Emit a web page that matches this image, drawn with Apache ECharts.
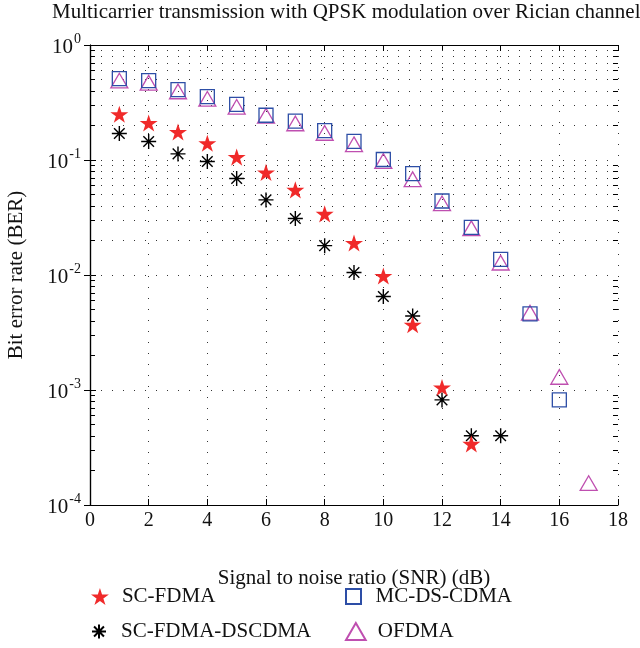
<!DOCTYPE html>
<html>
<head>
    <meta charset="utf-8">
    <title>BER vs SNR</title>
    <script src="https://cdn.jsdelivr.net/npm/echarts@6/dist/echarts.min.js"></script>
</head>
<body style="margin:0">
    <div id="main" style="width:640px;height:648px;"></div>
    <script>
        // data
        var scFdmaX = [1, 2, 3, 4, 5, 6, 7, 8, 9, 10, 11, 12, 13];
        var scFdma = [0.25, 0.21, 0.175, 0.14, 0.106, 0.078, 0.055, 0.034, 0.019, 0.0098, 0.0037, 0.00105, 0.00034];
        var dscdmaX = [1, 2, 3, 4, 5, 6, 7, 8, 9, 10, 11, 12, 13, 14];
        var dscdma = [0.17, 0.145, 0.113, 0.097, 0.069, 0.045, 0.031, 0.018, 0.0105, 0.0065, 0.0044, 0.00082, 0.0004, 0.0004];
        var mcX = [1, 2, 3, 4, 5, 6, 7, 8, 9, 10, 11, 12, 13, 14, 15, 16];
        var mcDsCdma = [0.51, 0.49, 0.41, 0.355, 0.305, 0.245, 0.218, 0.18, 0.145, 0.101, 0.076, 0.044, 0.026, 0.0137, 0.0046, 0.00082];
        var ofX = [1, 2, 3, 4, 5, 6, 7, 8, 9, 10, 11, 12, 13, 14, 15, 16, 17];
        var ofdma = [0.49, 0.47, 0.395, 0.34, 0.29, 0.243, 0.208, 0.172, 0.137, 0.098, 0.068, 0.042, 0.0255, 0.0128, 0.0047, 0.0013, 0.000155];

        var minorTicks = [];
        [1e-4, 1e-3, 1e-2, 1e-1].forEach(function (d) {
            for (var k = 2; k <= 9; k++) minorTicks.push(+(k * d).toPrecision(3));
        });

        function pairs(xs, ys) {
            return xs.map(function (x, i) { return [x, ys[i]]; });
        }

        var starPath = 'path://M0,-10L2.245,-3.09L9.511,-3.09L3.633,1.18L5.878,8.09L0,3.82L-5.878,8.09L-3.633,1.18L-9.511,-3.09L-2.245,-3.09Z';
        var asteriskPath = 'path://M0,-10L0,10M-10,0L10,0M-7.07,-7.07L7.07,7.07M-7.07,7.07L7.07,-7.07';
        var squarePath = 'path://M-10,-10L10,-10L10,10L-10,10Z';
        var trianglePath = 'path://M0,-10L11,9L-11,9Z';

        var serif = 'Liberation Serif';
        var dotted = { color: '#333', width: 1, type: [1, 10] };

        // minor grid + minor ticks on both sides
        var gridLines = [];
        minorTicks.forEach(function (v) {
            gridLines.push({ yAxis: v, lineStyle: dotted });
            gridLines.push([{ coord: [0, v], lineStyle: { color: '#000', width: 1, type: 'solid' } }, { coord: [0.17, v] }]);
            gridLines.push([{ coord: [18, v], lineStyle: { color: '#000', width: 1, type: 'solid' } }, { coord: [17.83, v] }]);
        });

        function legendItem(name, left, top, size) {
            return {
                data: [name],
                left: left,
                top: top,
                padding: 0,
                itemWidth: 34,
                itemHeight: size,
                selectedMode: false,
                textStyle: { fontFamily: serif, fontSize: 21, color: '#111' }
            };
        }

        var myChart = echarts.init(document.getElementById('main'));

        var option = {
            animation: false,
            title: {
                text: 'Multicarrier transmission with QPSK modulation over Rician channel',
                left: 52,
                top: 2,
                padding: 0,
                textStyle: { fontFamily: serif, fontSize: 21, fontWeight: 'normal', color: '#111' }
            },
            legend: [
                legendItem('SC-FDMA', 91, 586, 17),
                legendItem('SC-FDMA-DSCDMA', 91, 621, 14),
                legendItem('MC-DS-CDMA', 345, 586, 15),
                legendItem('OFDMA', 345, 621, 17)
            ],
            grid: { left: 90, right: 22, top: 45, bottom: 143, outerBoundsMode: 'none' },
            xAxis: [{
                type: 'value',
                min: 0,
                max: 18,
                interval: 2,
                name: 'Signal to noise ratio (SNR) (dB)',
                nameLocation: 'middle',
                nameGap: 63,
                nameTextStyle: { fontFamily: serif, fontSize: 21, color: '#111' },
                axisLine: { lineStyle: { color: '#000', width: 1.2 } },
                axisTick: { inside: true, length: 6, lineStyle: { color: '#000' } },
                axisLabel: { fontFamily: serif, fontSize: 20, color: '#111', margin: 6 },
                splitLine: { show: true, lineStyle: dotted }
            }, {
                type: 'value',
                position: 'top',
                min: 0,
                max: 18,
                interval: 2,
                axisLine: { lineStyle: { color: '#000', width: 1.2 } },
                axisTick: { inside: true, length: 6, lineStyle: { color: '#000' } },
                axisLabel: { show: false },
                splitLine: { show: false }
            }],
            yAxis: [{
                type: 'log',
                logBase: 10,
                min: 1e-4,
                max: 1,
                name: 'Bit error rate (BER)',
                nameLocation: 'middle',
                nameGap: 63,
                nameTextStyle: { fontFamily: serif, fontSize: 21, color: '#111' },
                axisLine: { show: true, lineStyle: { color: '#000', width: 1.2 } },
                axisTick: { inside: true, length: 6, lineStyle: { color: '#000' } },
                axisLabel: {
                    margin: 9,
                    formatter: function (v) {
                        var e = Math.round(Math.log10(v));
                        return '{b|10}{s|' + e + '}';
                    },
                    rich: {
                        b: { fontFamily: serif, fontSize: 21, color: '#111', verticalAlign: 'bottom' },
                        s: { fontFamily: serif, fontSize: 14, color: '#111', verticalAlign: 'top', padding: [0, 0, 12, 1] }
                    }
                },
                splitLine: { show: true, lineStyle: dotted }
            }, {
                type: 'log',
                logBase: 10,
                min: 1e-4,
                max: 1,
                position: 'right',
                axisLine: { show: true, lineStyle: { color: '#000', width: 1.2 } },
                axisTick: { inside: true, length: 6, lineStyle: { color: '#000' } },
                axisLabel: { show: false },
                splitLine: { show: false }
            }],
            series: [{
                name: 'OFDMA',
                type: 'scatter',
                data: pairs(ofX, ofdma),
                symbol: trianglePath,
                symbolSize: 17,
                symbolKeepAspect: true,
                itemStyle: { color: 'rgba(0,0,0,0)', borderColor: '#bf4fb0', borderWidth: 1.3, opacity: 1 },
                z: 3
            }, {
                name: 'MC-DS-CDMA',
                type: 'scatter',
                data: pairs(mcX, mcDsCdma),
                symbol: squarePath,
                symbolSize: 14,
                symbolKeepAspect: true,
                itemStyle: { color: 'rgba(0,0,0,0)', borderColor: '#2d4ea6', borderWidth: 1.3, opacity: 1 },
                z: 3,
                markLine: {
                    silent: true,
                    symbol: 'none',
                    label: { show: false },
                    emphasis: { disabled: true },
                    data: gridLines,
                    z: 1
                }
            }, {
                name: 'SC-FDMA-DSCDMA',
                type: 'scatter',
                data: pairs(dscdmaX, dscdma),
                symbol: asteriskPath,
                symbolSize: 15,
                symbolKeepAspect: true,
                itemStyle: { color: 'rgba(0,0,0,0)', borderColor: '#000', borderWidth: 1.4, opacity: 1 },
                z: 4
            }, {
                name: 'SC-FDMA',
                type: 'scatter',
                data: pairs(scFdmaX, scFdma),
                symbol: starPath,
                symbolSize: 18,
                symbolKeepAspect: true,
                itemStyle: { color: '#f02a2a', opacity: 1 },
                z: 5
            }]
        };

        myChart.setOption(option);
    </script>
</body>
</html>
